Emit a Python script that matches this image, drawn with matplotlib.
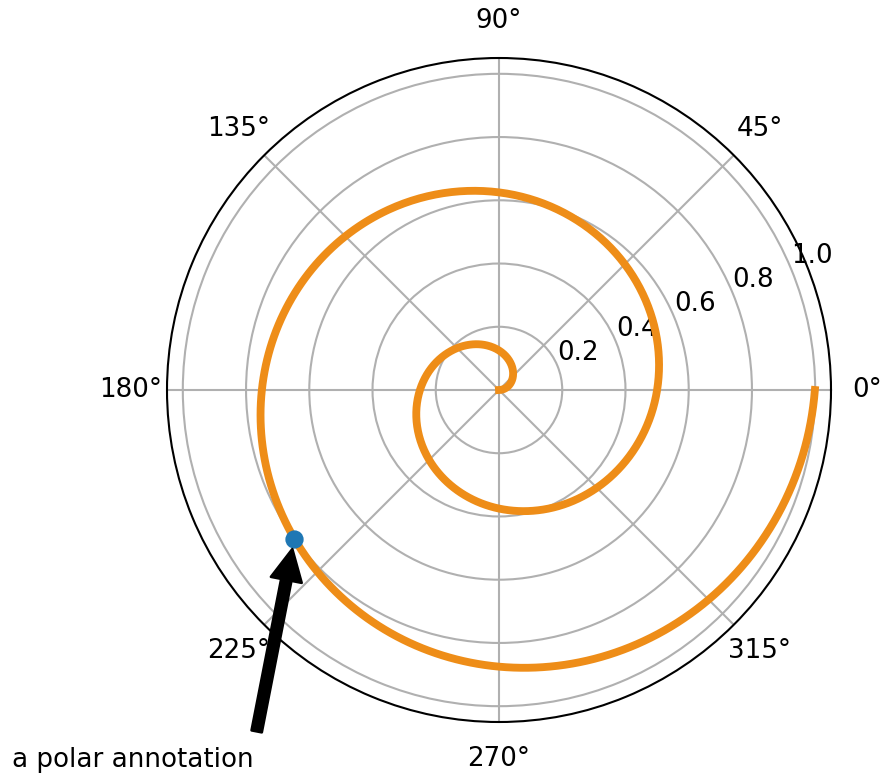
import matplotlib
matplotlib.use("Agg")
import matplotlib.pyplot as plt
import numpy as np

# spiral: radius every 45 degrees, two full turns
theta_deg = [0, 45, 90, 135, 180, 225, 270, 315, 360,
             405, 450, 495, 540, 585, 630, 675, 720]
r_vals = [0.0, 0.0625, 0.125, 0.1875, 0.25, 0.3125, 0.375, 0.4375, 0.5,
          0.5625, 0.625, 0.6875, 0.75, 0.8125, 0.875, 0.9375, 0.999]

# annotated point
point_theta_deg = 216
point_r = 0.8
note_text = 'a polar annotation'

DPI = 188
fig = plt.figure(figsize=(881 / DPI, 776 / DPI), dpi=DPI)
# circle centre (499, 390) px, radius 332 px
ax = fig.add_axes([167 / 881, 54 / 776, 664 / 881, 664 / 776], projection='polar')

line, = ax.plot(np.deg2rad(theta_deg), r_vals, color='#ee8d18', lw=3)
# let the polar transform draw each segment as a spiral arc
line.get_path()._interpolation_steps = 60

ax.plot([np.deg2rad(point_theta_deg)], [point_r], 'o')
ax.set_rmax(1.05)

ax.annotate(note_text,
            xy=(np.deg2rad(point_theta_deg), point_r),
            xytext=(12 / 881, 3 / 776),
            textcoords='figure fraction',
            arrowprops=dict(facecolor='black', shrink=0.05),
            horizontalalignment='left',
            verticalalignment='bottom')

fig.savefig('out.png', dpi=DPI)
